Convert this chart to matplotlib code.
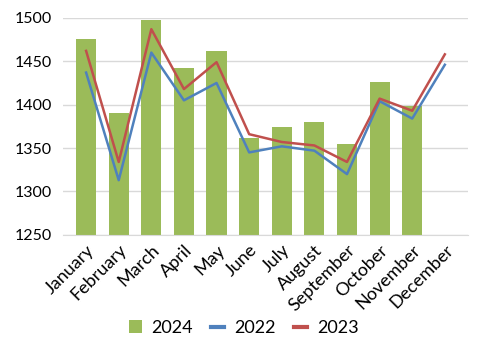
import matplotlib.pyplot as plt
import numpy as np
from matplotlib.lines import Line2D
from matplotlib.patches import Patch

months = ["January", "February", "March", "April", "May", "June", "July",
          "August", "September", "October", "November", "December"]
sales_2024 = [1476, 1390, 1498, 1442, 1462, 1362, 1374, 1380, 1355, 1426, 1399, np.nan]
sales_2022 = [1437, 1313, 1460, 1405, 1425, 1345, 1352, 1347, 1320, 1404, 1384, 1446]
sales_2023 = [1462, 1334, 1487, 1418, 1449, 1366, 1357, 1353, 1334, 1407, 1393, 1458]
y_ticks = [1250, 1300, 1350, 1400, 1450, 1500]

plt.rcParams["font.family"] = ["Lato", "DejaVu Sans"]

fig = plt.figure(figsize=(4.88, 3.58), dpi=100)
ax = fig.add_axes([0.129, 0.344, 0.83, 0.606])

x = np.arange(len(months))
green = "#9BBB59"
blue = "#4F81BD"
red = "#C0504D"

ax.bar(x, sales_2024, width=0.62, color=green, zorder=2)
ax.plot(x, sales_2022, color=blue, linewidth=1.8, zorder=3)
ax.plot(x, sales_2023, color=red, linewidth=1.8, zorder=4)

ax.set_ylim(1250, 1500)
ax.set_yticks(y_ticks)
ax.set_xlim(-0.71, 11.71)
ax.set_xticks(x)
ax.set_xticklabels(months, rotation=45, ha="right", rotation_mode="anchor", fontsize=13)
ax.tick_params(axis="y", labelsize=11.5, length=0, pad=8)
ax.tick_params(axis="x", length=0, pad=5)
ax.grid(axis="y", color="#D9D9D9", linewidth=1, zorder=0)
for side in ["top", "right", "left"]:
    ax.spines[side].set_visible(False)
ax.spines["bottom"].set_color("#D9D9D9")
ax.set_axisbelow(True)

handles = [
    Patch(facecolor=green, edgecolor="none"),
    Line2D([], [], color=blue, linewidth=3),
    Line2D([], [], color=red, linewidth=3),
]
fig.legend(handles, ["2024", "2022", "2023"], loc="center", bbox_to_anchor=(0.499, 0.084),
           ncol=3, frameon=False, fontsize=13, handlelength=0.72, handleheight=0.67,
           columnspacing=1.0, handletextpad=0.55)

fig.savefig("out.png", dpi=100)
